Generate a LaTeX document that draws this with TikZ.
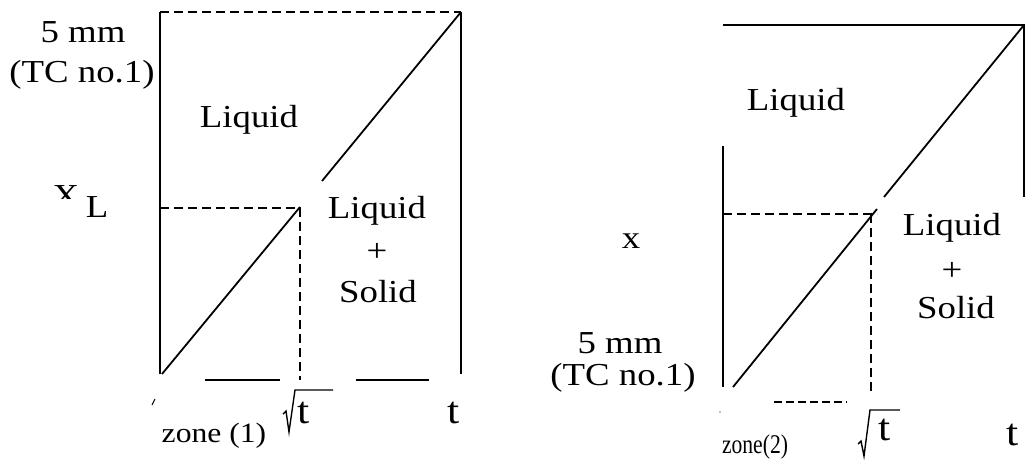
\documentclass[tikz,border=0pt]{standalone}
\usepackage{fontspec}
\setmainfont{Liberation Serif}
\newcommand\sx[2][1.15]{\scalebox{#1}[1]{#2}}
\begin{document}
\begin{tikzpicture}[x=1pt,y=-1pt,
  lbl/.style={inner sep=0pt, anchor=base, font=\fontsize{32}{38}\selectfont},
  smalllbl/.style={inner sep=0pt, anchor=base, font=\fontsize{28}{32}\selectfont},
  biglbl/.style={inner sep=0pt, anchor=base, font=\fontsize{38}{44}\selectfont},
  solidline/.style={line width=1.8pt},
  dashline/.style={line width=1.5pt, dash pattern=on 9pt off 5pt},
  radline/.style={line width=1.4pt, line join=miter},
]
\useasboundingbox (0,0) rectangle (1028,459);

% ---------- left panel ----------
\coordinate (Ltl) at (160,12);
\coordinate (Ltr) at (461,12);
\coordinate (Lbl) at (160,374);
\coordinate (Lbr) at (461,374);
\coordinate (Ld1) at (322,181);
\coordinate (Ld2) at (300,207);
\coordinate (Ld3) at (162,374);
\coordinate (Lh1) at (160,208);
\coordinate (Lh2) at (300,208);
\coordinate (Lv2) at (300,380);

\draw[solidline] (Lbl) -- (Ltl);
\draw[dashline] (Ltl) -- (Ltr);
\draw[solidline] (Ltr) -- (Lbr);
\draw[solidline] (Ltr) -- (Ld1);
\draw[solidline] (Ld2) -- (Ld3);
\draw[dashline] (Lh1) -- (Lh2) -- (Lv2);
\draw[solidline] (205,380) -- (280,380);
\draw[solidline] (356,380) -- (429,380);
\draw[line width=1pt] (152,405) -- (155,399);

% radical
\draw[radline] (283,414) -- (286,411) -- (289,432) -- (295,390) -- (333,390);
\node[biglbl] (Lsqt) at (304,423) {\sx{t}};
\node[biglbl] (Lt) at (454,423) {\sx{t}};
\node[smalllbl] (Lzone) at (214,442) {\sx[1.13]{zone (1)}};

\node[lbl] (L5mm) at (83,42) {\sx{5 mm}};
\node[lbl] (Ltc) at (82,82) {\sx{(TC no.1)}};
\node[lbl] (Lliq) at (249,127) {\sx{Liquid}};
\begin{scope}
  \clip (50,183) rectangle (85,198);
  \node[lbl] (LX) at (66,206) {\sx{X}};
\end{scope}
\node[lbl] (LL) at (97,217) {\sx{L}};
\node[lbl] (Lliq2) at (377,218) {\sx{Liquid}};
\node[lbl] (Lplus) at (377,261) {\sx{+}};
\node[lbl] (Lsol) at (378,302) {\sx{Solid}};

% ---------- right panel ----------
\coordinate (Rtl) at (723,25);
\coordinate (Rtr) at (1024,25);
\coordinate (Rrb) at (1024,197);
\coordinate (Rlt) at (723,146);
\coordinate (Rlb) at (723,387);
\coordinate (Rd1) at (884,197);
\coordinate (Rd2) at (877,209);
\coordinate (Rd3) at (733,387);
\coordinate (Rh1) at (723,214);
\coordinate (Rh2) at (877,214);
\coordinate (Rv1) at (871,214);
\coordinate (Rv2) at (871,392);

\draw[solidline] (Rtl) -- (Rtr) -- (Rrb);
\draw[solidline] (Rlt) -- (Rlb);
\draw[solidline] (Rtr) -- (Rd1);
\draw[solidline] (Rd2) -- (Rd3);
\draw[dashline] (Rh1) -- (Rh2);
\draw[dashline] (Rv1) -- (Rv2);
\draw[line width=1.4pt, dash pattern=on 8pt off 4pt] (774,402) -- (847,402);
\fill[gray] (720,412) circle (0.9);

\draw[radline] (858,444) -- (861,441) -- (864,456) -- (870,410) -- (900,410);
\node[biglbl] (Rsqt) at (885,440) {\sx{t}};
\node[biglbl] (Rt) at (1013,445) {\sx{t}};
\node[smalllbl, font=\fontsize{27}{30}\selectfont] (Rzone) at (755,453) {\sx[0.8]{zone(2)}};

\node[lbl] (Rliq) at (796,110) {\sx{Liquid}};
\node[lbl] (Rliq2) at (952,235) {\sx{Liquid}};
\node[lbl] (Rplus) at (952,280) {\sx{+}};
\node[lbl] (Rsol) at (956,318) {\sx{Solid}};
\node[lbl] (Rx) at (631,248) {\sx{x}};
\node[lbl] (R5mm) at (620,353) {\sx{5 mm}};
\node[lbl] (Rtc) at (623,385) {\sx{(TC no.1)}};
\end{tikzpicture}
\end{document}
